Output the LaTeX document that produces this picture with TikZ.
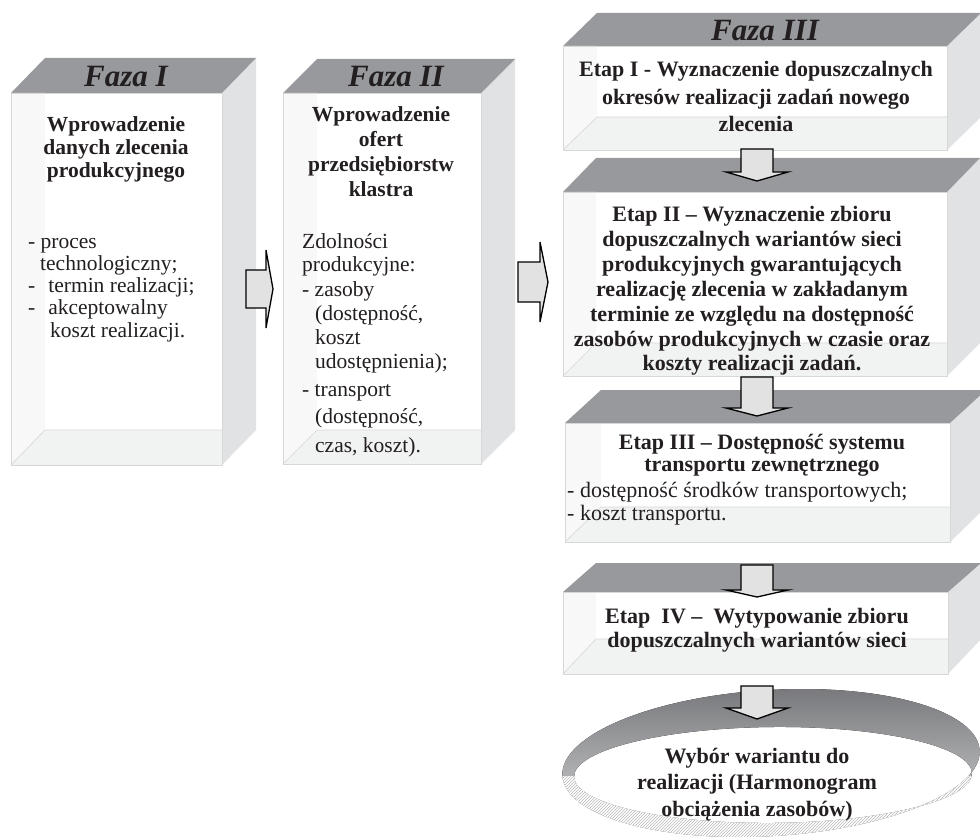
\documentclass[tikz,border=0pt]{standalone}
\usepackage{fontspec}
\setmainfont{Liberation Serif}
\usetikzlibrary{patterns}
\definecolor{topg}{RGB}{152,153,157}
\definecolor{sideg}{RGB}{225,226,228}
\definecolor{floorg}{RGB}{241,242,242}
\definecolor{stripg}{RGB}{248,248,248}
\definecolor{edgeg}{RGB}{215,215,215}
\definecolor{ink}{RGB}{35,31,32}
\definecolor{arrowg}{RGB}{226,226,226}
% x1 y1 x2 y2 dx dy floorY
\newcommand\mycube[7]{%
  \fill[sideg] (#3,#2) -- (#3+#5,#2-#6) -- (#3+#5,#7) -- (#3,#4) -- cycle;
  \fill[topg] (#1,#2) -- (#1+#5,#2-#6) -- (#3+#5,#2-#6) -- (#3,#2) -- cycle;
  \fill[white] (#1,#2) rectangle (#3,#4);
  \fill[stripg] (#1,#2) -- (#1+#5,#2) -- (#1+#5,#7) -- (#1,#4) -- cycle;
  \fill[floorg] (#1,#4) -- (#1+#5,#7) -- (#3,#7) -- (#3,#4) -- cycle;
  \draw[edgeg, line width=0.6] (#1,#4) -- (#1+#5,#7) -- (#3,#7);
  \draw[edgeg, line width=0.6] (#1,#2) rectangle (#3,#4);
}
% cx ytop ybase ytip
\newcommand\mydownarrow[4]{%
  \draw[blockarrow] (#1-16,#2) -- (#1+16,#2) -- (#1+16,#3) -- (#1+31,#3) -- (#1,#4)
    -- (#1-31,#3) -- (#1-16,#3) -- cycle;
}
\newcommand\myring{%
  (771,763) ellipse [x radius=209, y radius=73, rotate=3.5]
  (773,775) ellipse [x radius=199, y radius=48, rotate=0.5]}
\tikzset{
  blockarrow/.style={fill=arrowg, draw=black, line width=1.3, line join=miter},
  ttl/.style={font=\fontsize{31}{31}\selectfont\bfseries\itshape, text=ink, inner sep=0, anchor=base},
  bt/.style={font=\fontsize{21.5}{22}\selectfont\bfseries, text=ink, inner sep=0, anchor=base},
  btc/.style={font=\fontsize{22}{22}\selectfont\bfseries, text=ink, inner sep=0, anchor=base},
  rt/.style={font=\fontsize{21.5}{22}\selectfont, text=ink, inner sep=0, anchor=base west},
  rtc/.style={font=\fontsize{22}{22}\selectfont, text=ink, inner sep=0, anchor=base west},
}
\begin{document}
\begin{tikzpicture}[x=1pt,y=-1pt]
\useasboundingbox (0,0) rectangle (980,837);
\clip (0,0) rectangle (980,837);
\fill[white] (0,0) rectangle (980,837);

% ---------- Faza I ----------
\mycube{11}{93}{222}{465}{34}{35}{430}
\node[ttl] (t1) at (126,87) {Faza I};
\foreach \t [count=\i] in {Wprowadzenie, danych zlecenia, produkcyjnego}
  \node[bt] (f1h\i) at ({116},{132+23*(\i-1)}) {\t};
\foreach \x/\y/\t [count=\i] in {28/248/{- proces}, 40/270/{technologiczny;},
   28/292/{-\hspace{13pt}termin realizacji;}, 28/314/{-\hspace{13pt}akceptowalny},
   50/337/{koszt realizacji.}}
  \node[rt] (f1l\i) at (\x,\y) {\t};

% ---------- Faza II ----------
\mycube{283}{93}{481}{464}{34}{34}{430}
\node[ttl] (t2) at (396,87) {Faza II};
\foreach \t [count=\i] in {Wprowadzenie, ofert, przedsiębiorstw, klastra}
  \node[bt] (f2h\i) at ({381},{122+24.7*(\i-1)}) {\t};
\foreach \x/\y/\t [count=\i] in {302/248/{Zdolności}, 302/272/{produkcyjne:},
   302/296/{- zasoby}, 315/320/{(dostępność,}, 315/344/{koszt},
   315/368/{udostępnienia);}, 302/396/{- transport}, 315/423/{(dostępność,},
   315/452/{czas, koszt).}}
  \node[rt] (f2l\i) at (\x,\y) {\t};

% ---------- horizontal arrows ----------
\draw[blockarrow] (246,270) -- (266,270) -- (266,250) -- (273,289) -- (266,328)
  -- (266,308) -- (246,308) -- cycle;
\draw[blockarrow] (518,262) -- (540,262) -- (540,242) -- (548,282) -- (540,322)
  -- (540,302) -- (518,302) -- cycle;

% ---------- Faza III ----------
\mycube{563}{46}{947}{150}{34}{33}{117}
\mycube{563}{192}{947}{376}{33}{34}{343}
\mycube{565}{423}{950}{542}{36}{33}{507}
\mycube{563}{592}{948}{674}{33}{29}{639}

% ring
\fill[even odd rule, top color=topg!80!black, bottom color=topg!35] \myring;
\begin{scope}
  \clip (550,776) rectangle (985,840);
  \fill[white, even odd rule] \myring;
  \fill[pattern=north east lines, pattern color=gray!55, even odd rule] \myring;
\end{scope}

\mydownarrow{757}{149}{172}{181}
\mydownarrow{757}{377}{408}{416}
\mydownarrow{757}{565}{590}{597}
\mydownarrow{757}{686}{708}{719}

\node[ttl] (t3) at (765,41) {Faza III};
\foreach \t [count=\i] in {Etap I - Wyznaczenie dopuszczalnych,
   okresów realizacji zadań nowego, zlecenia}
  \node[btc] (e1\i) at ({756},{77+27.5*(\i-1)}) {\t};
\foreach \t [count=\i] in {Etap II – Wyznaczenie zbioru,
   dopuszczalnych wariantów sieci, produkcyjnych gwarantujących,
   realizację zlecenia w zakładanym, terminie ze względu na dostępność,
   zasobów produkcyjnych w czasie oraz, koszty realizacji zadań.}
  \node[btc] (e2\i) at ({752},{222+24.8*(\i-1)}) {\t};
\node[btc] (e31) at (762,449) {Etap III – Dostępność systemu};
\node[btc] (e32) at (762,471) {transportu zewnętrznego};
\node[rtc] (e33) at (567,497) {- dostępność środków transportowych;};
\node[rtc] (e34) at (567,520) {- koszt transportu.};
\node[btc] (e41) at (757,623) {Etap~ IV –~ Wytypowanie zbioru};
\node[btc] (e42) at (757,647) {dopuszczalnych wariantów sieci};
\foreach \t [count=\i] in {Wybór wariantu do, realizacji (Harmonogram,
   obciążenia zasobów)}
  \node[btc] (w\i) at ({757},{763+26.5*(\i-1)}) {\t};
\end{tikzpicture}
\end{document}
